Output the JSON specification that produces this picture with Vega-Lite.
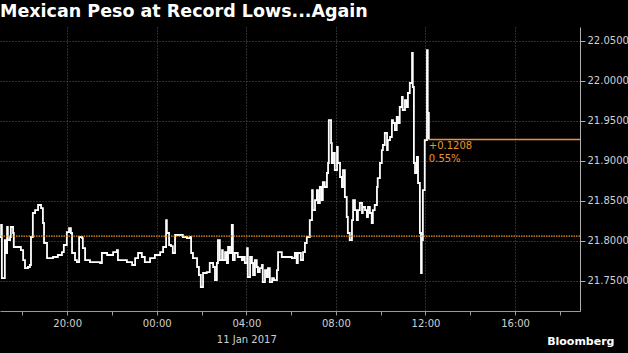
{
  "$schema": "https://vega.github.io/schema/vega-lite/v6.json",
  "width": 580,
  "height": 284,
  "autosize": {"type": "none"},
  "padding": {"left": 0, "top": 27, "right": 48, "bottom": 42},
  "background": "#000000",
  "config": {"view": {"stroke": null}},
  "title": {
    "text": "Mexican Peso at Record Lows...Again",
    "anchor": "start",
    "frame": "group",
    "font": "DejaVu Sans",
    "fontSize": 17.5,
    "fontWeight": "bold",
    "color": "#ffffff",
    "offset": 7
  },
  "datasets": {
    "peso": [
      {"t": "2017-01-10T17:00", "v": 21.8044},
      {"t": "2017-01-10T17:03", "v": 21.8194},
      {"t": "2017-01-10T17:05", "v": 21.7531},
      {"t": "2017-01-10T17:11", "v": 21.7531},
      {"t": "2017-01-10T17:13", "v": 21.8006},
      {"t": "2017-01-10T17:16", "v": 21.7844},
      {"t": "2017-01-10T17:19", "v": 21.8169},
      {"t": "2017-01-10T17:21", "v": 21.8006},
      {"t": "2017-01-10T17:27", "v": 21.8044},
      {"t": "2017-01-10T17:29", "v": 21.8169},
      {"t": "2017-01-10T17:35", "v": 21.8094},
      {"t": "2017-01-10T17:37", "v": 21.7919},
      {"t": "2017-01-10T17:43", "v": 21.7919},
      {"t": "2017-01-10T17:48", "v": 21.7919},
      {"t": "2017-01-10T17:56", "v": 21.7881},
      {"t": "2017-01-10T18:02", "v": 21.7756},
      {"t": "2017-01-10T18:07", "v": 21.7656},
      {"t": "2017-01-10T18:15", "v": 21.7669},
      {"t": "2017-01-10T18:20", "v": 21.7694},
      {"t": "2017-01-10T18:23", "v": 21.8044},
      {"t": "2017-01-10T18:28", "v": 21.8344},
      {"t": "2017-01-10T18:34", "v": 21.8381},
      {"t": "2017-01-10T18:42", "v": 21.8444},
      {"t": "2017-01-10T18:50", "v": 21.8406},
      {"t": "2017-01-10T18:55", "v": 21.8219},
      {"t": "2017-01-10T18:58", "v": 21.7969},
      {"t": "2017-01-10T19:06", "v": 21.7781},
      {"t": "2017-01-10T19:11", "v": 21.7781},
      {"t": "2017-01-10T19:22", "v": 21.7794},
      {"t": "2017-01-10T19:35", "v": 21.7819},
      {"t": "2017-01-10T19:46", "v": 21.7856},
      {"t": "2017-01-10T19:51", "v": 21.7944},
      {"t": "2017-01-10T19:59", "v": 21.8106},
      {"t": "2017-01-10T20:05", "v": 21.8156},
      {"t": "2017-01-10T20:10", "v": 21.8094},
      {"t": "2017-01-10T20:13", "v": 21.7844},
      {"t": "2017-01-10T20:21", "v": 21.7756},
      {"t": "2017-01-10T20:26", "v": 21.7731},
      {"t": "2017-01-10T20:32", "v": 21.8044},
      {"t": "2017-01-10T20:40", "v": 21.8031},
      {"t": "2017-01-10T20:42", "v": 21.7906},
      {"t": "2017-01-10T20:48", "v": 21.7756},
      {"t": "2017-01-10T21:01", "v": 21.7731},
      {"t": "2017-01-10T21:14", "v": 21.7731},
      {"t": "2017-01-10T21:28", "v": 21.7719},
      {"t": "2017-01-10T21:33", "v": 21.7844},
      {"t": "2017-01-10T21:47", "v": 21.7819},
      {"t": "2017-01-10T21:55", "v": 21.7819},
      {"t": "2017-01-10T22:03", "v": 21.7856},
      {"t": "2017-01-10T22:13", "v": 21.7881},
      {"t": "2017-01-10T22:16", "v": 21.7756},
      {"t": "2017-01-10T22:29", "v": 21.7756},
      {"t": "2017-01-10T22:40", "v": 21.7731},
      {"t": "2017-01-10T22:48", "v": 21.7731},
      {"t": "2017-01-10T22:54", "v": 21.7694},
      {"t": "2017-01-10T23:02", "v": 21.7781},
      {"t": "2017-01-10T23:10", "v": 21.7844},
      {"t": "2017-01-10T23:20", "v": 21.7794},
      {"t": "2017-01-10T23:28", "v": 21.7731},
      {"t": "2017-01-10T23:42", "v": 21.7781},
      {"t": "2017-01-10T23:55", "v": 21.7819},
      {"t": "2017-01-11T00:09", "v": 21.7856},
      {"t": "2017-01-11T00:17", "v": 21.7919},
      {"t": "2017-01-11T00:25", "v": 21.8256},
      {"t": "2017-01-11T00:27", "v": 21.8094},
      {"t": "2017-01-11T00:33", "v": 21.7944},
      {"t": "2017-01-11T00:38", "v": 21.7931},
      {"t": "2017-01-11T00:43", "v": 21.7844},
      {"t": "2017-01-11T00:49", "v": 21.8069},
      {"t": "2017-01-11T00:57", "v": 21.8069},
      {"t": "2017-01-11T01:10", "v": 21.8044},
      {"t": "2017-01-11T01:21", "v": 21.8031},
      {"t": "2017-01-11T01:29", "v": 21.8044},
      {"t": "2017-01-11T01:32", "v": 21.7844},
      {"t": "2017-01-11T01:37", "v": 21.7781},
      {"t": "2017-01-11T01:48", "v": 21.7669},
      {"t": "2017-01-11T01:53", "v": 21.7569},
      {"t": "2017-01-11T01:58", "v": 21.7419},
      {"t": "2017-01-11T02:04", "v": 21.7594},
      {"t": "2017-01-11T02:14", "v": 21.7606},
      {"t": "2017-01-11T02:22", "v": 21.7719},
      {"t": "2017-01-11T02:31", "v": 21.7669},
      {"t": "2017-01-11T02:36", "v": 21.7506},
      {"t": "2017-01-11T02:41", "v": 21.7719},
      {"t": "2017-01-11T02:44", "v": 21.8006},
      {"t": "2017-01-11T02:49", "v": 21.7756},
      {"t": "2017-01-11T02:55", "v": 21.7881},
      {"t": "2017-01-11T02:57", "v": 21.7756},
      {"t": "2017-01-11T03:03", "v": 21.7856},
      {"t": "2017-01-11T03:08", "v": 21.7719},
      {"t": "2017-01-11T03:11", "v": 21.7919},
      {"t": "2017-01-11T03:16", "v": 21.7844},
      {"t": "2017-01-11T03:21", "v": 21.8194},
      {"t": "2017-01-11T03:24", "v": 21.7756},
      {"t": "2017-01-11T03:29", "v": 21.7844},
      {"t": "2017-01-11T03:37", "v": 21.7794},
      {"t": "2017-01-11T03:48", "v": 21.7756},
      {"t": "2017-01-11T03:51", "v": 21.7794},
      {"t": "2017-01-11T03:56", "v": 21.7719},
      {"t": "2017-01-11T04:02", "v": 21.7906},
      {"t": "2017-01-11T04:04", "v": 21.7544},
      {"t": "2017-01-11T04:10", "v": 21.7794},
      {"t": "2017-01-11T04:15", "v": 21.7719},
      {"t": "2017-01-11T04:18", "v": 21.7569},
      {"t": "2017-01-11T04:23", "v": 21.7756},
      {"t": "2017-01-11T04:28", "v": 21.7669},
      {"t": "2017-01-11T04:31", "v": 21.7606},
      {"t": "2017-01-11T04:36", "v": 21.7656},
      {"t": "2017-01-11T04:42", "v": 21.7694},
      {"t": "2017-01-11T04:44", "v": 21.7481},
      {"t": "2017-01-11T04:50", "v": 21.7631},
      {"t": "2017-01-11T04:55", "v": 21.7544},
      {"t": "2017-01-11T04:58", "v": 21.7656},
      {"t": "2017-01-11T05:03", "v": 21.7481},
      {"t": "2017-01-11T05:09", "v": 21.7531},
      {"t": "2017-01-11T05:14", "v": 21.7506},
      {"t": "2017-01-11T05:22", "v": 21.7631},
      {"t": "2017-01-11T05:25", "v": 21.7856},
      {"t": "2017-01-11T05:35", "v": 21.7794},
      {"t": "2017-01-11T05:49", "v": 21.7794},
      {"t": "2017-01-11T06:02", "v": 21.7781},
      {"t": "2017-01-11T06:10", "v": 21.7844},
      {"t": "2017-01-11T06:15", "v": 21.7719},
      {"t": "2017-01-11T06:18", "v": 21.7844},
      {"t": "2017-01-11T06:26", "v": 21.7756},
      {"t": "2017-01-11T06:32", "v": 21.7856},
      {"t": "2017-01-11T06:37", "v": 21.7969},
      {"t": "2017-01-11T06:42", "v": 21.8044},
      {"t": "2017-01-11T06:45", "v": 21.8044},
      {"t": "2017-01-11T06:50", "v": 21.8256},
      {"t": "2017-01-11T06:56", "v": 21.8631},
      {"t": "2017-01-11T06:58", "v": 21.8381},
      {"t": "2017-01-11T07:04", "v": 21.8506},
      {"t": "2017-01-11T07:09", "v": 21.8631},
      {"t": "2017-01-11T07:12", "v": 21.8469},
      {"t": "2017-01-11T07:17", "v": 21.8669},
      {"t": "2017-01-11T07:22", "v": 21.8506},
      {"t": "2017-01-11T07:25", "v": 21.8731},
      {"t": "2017-01-11T07:30", "v": 21.8669},
      {"t": "2017-01-11T07:36", "v": 21.8844},
      {"t": "2017-01-11T07:39", "v": 21.8969},
      {"t": "2017-01-11T07:41", "v": 21.9506},
      {"t": "2017-01-11T07:47", "v": 21.9219},
      {"t": "2017-01-11T07:49", "v": 21.8969},
      {"t": "2017-01-11T07:52", "v": 21.9094},
      {"t": "2017-01-11T07:57", "v": 21.8881},
      {"t": "2017-01-11T08:03", "v": 21.9169},
      {"t": "2017-01-11T08:05", "v": 21.8969},
      {"t": "2017-01-11T08:11", "v": 21.8794},
      {"t": "2017-01-11T08:16", "v": 21.8669},
      {"t": "2017-01-11T08:19", "v": 21.8881},
      {"t": "2017-01-11T08:24", "v": 21.8544},
      {"t": "2017-01-11T08:29", "v": 21.8294},
      {"t": "2017-01-11T08:32", "v": 21.8094},
      {"t": "2017-01-11T08:37", "v": 21.8006},
      {"t": "2017-01-11T08:43", "v": 21.8256},
      {"t": "2017-01-11T08:46", "v": 21.8506},
      {"t": "2017-01-11T08:51", "v": 21.8381},
      {"t": "2017-01-11T08:56", "v": 21.8256},
      {"t": "2017-01-11T08:59", "v": 21.8381},
      {"t": "2017-01-11T09:04", "v": 21.8469},
      {"t": "2017-01-11T09:10", "v": 21.8344},
      {"t": "2017-01-11T09:12", "v": 21.8419},
      {"t": "2017-01-11T09:18", "v": 21.8381},
      {"t": "2017-01-11T09:23", "v": 21.8294},
      {"t": "2017-01-11T09:26", "v": 21.8419},
      {"t": "2017-01-11T09:31", "v": 21.8344},
      {"t": "2017-01-11T09:36", "v": 21.8219},
      {"t": "2017-01-11T09:39", "v": 21.8381},
      {"t": "2017-01-11T09:44", "v": 21.8444},
      {"t": "2017-01-11T09:50", "v": 21.8669},
      {"t": "2017-01-11T09:52", "v": 21.8781},
      {"t": "2017-01-11T09:58", "v": 21.8969},
      {"t": "2017-01-11T10:03", "v": 21.9131},
      {"t": "2017-01-11T10:06", "v": 21.9194},
      {"t": "2017-01-11T10:11", "v": 21.9344},
      {"t": "2017-01-11T10:17", "v": 21.9131},
      {"t": "2017-01-11T10:19", "v": 21.9256},
      {"t": "2017-01-11T10:25", "v": 21.9294},
      {"t": "2017-01-11T10:30", "v": 21.9506},
      {"t": "2017-01-11T10:33", "v": 21.9469},
      {"t": "2017-01-11T10:38", "v": 21.9381},
      {"t": "2017-01-11T10:43", "v": 21.9544},
      {"t": "2017-01-11T10:46", "v": 21.9469},
      {"t": "2017-01-11T10:51", "v": 21.9669},
      {"t": "2017-01-11T10:57", "v": 21.9794},
      {"t": "2017-01-11T10:59", "v": 21.9631},
      {"t": "2017-01-11T11:05", "v": 21.9756},
      {"t": "2017-01-11T11:10", "v": 21.9669},
      {"t": "2017-01-11T11:13", "v": 21.9844},
      {"t": "2017-01-11T11:18", "v": 21.9969},
      {"t": "2017-01-11T11:24", "v": 22.0344},
      {"t": "2017-01-11T11:26", "v": 21.9919},
      {"t": "2017-01-11T11:29", "v": 21.8969},
      {"t": "2017-01-11T11:32", "v": 21.8844},
      {"t": "2017-01-11T11:37", "v": 21.9044},
      {"t": "2017-01-11T11:40", "v": 21.8719},
      {"t": "2017-01-11T11:45", "v": 21.8094},
      {"t": "2017-01-11T11:48", "v": 21.7594},
      {"t": "2017-01-11T11:50", "v": 21.8006},
      {"t": "2017-01-11T11:53", "v": 21.8631},
      {"t": "2017-01-11T11:58", "v": 21.9256},
      {"t": "2017-01-11T12:04", "v": 22.0381},
      {"t": "2017-01-11T12:06", "v": 21.9594},
      {"t": "2017-01-11T12:09", "v": 21.9263}
    ],
    "prev": [{"v": 21.8055}],
    "last": [{"t": "2017-01-11T12:09", "t2": "2017-01-11T18:54", "v": 21.9263, "chg": "+0.1208", "pct": "0.55%"}]
  },
  "layer": [
    {
      "data": {"name": "peso"},
      "mark": {"type": "line", "stroke": "#ffffff", "strokeWidth": 1.8, "interpolate": "step-after"},
      "encoding": {
        "x": {
          "field": "t",
          "type": "temporal",
          "scale": {"domain": [{"year": 2017, "month": 1, "date": 10, "hours": 17, "minutes": 0}, {"year": 2017, "month": 1, "date": 11, "hours": 18, "minutes": 54}]},
          "axis": {
            "orient": "bottom",
            "title": "Bloomberg",
            "titleFont": "DejaVu Sans",
            "titleFontSize": 11,
            "titleFontWeight": "bold",
            "titleColor": "#ffffff",
            "titleAnchor": "end",
            "titleAlign": "right",
            "titleBaseline": "middle",
            "titleX": 614,
            "titleY": 30,
            "values": [
              {"year": 2017, "month": 1, "date": 10, "hours": 18},
              {"year": 2017, "month": 1, "date": 10, "hours": 20},
              {"year": 2017, "month": 1, "date": 10, "hours": 22},
              {"year": 2017, "month": 1, "date": 11, "hours": 0},
              {"year": 2017, "month": 1, "date": 11, "hours": 2},
              {"year": 2017, "month": 1, "date": 11, "hours": 4},
              {"year": 2017, "month": 1, "date": 11, "hours": 6},
              {"year": 2017, "month": 1, "date": 11, "hours": 8},
              {"year": 2017, "month": 1, "date": 11, "hours": 10},
              {"year": 2017, "month": 1, "date": 11, "hours": 12},
              {"year": 2017, "month": 1, "date": 11, "hours": 14},
              {"year": 2017, "month": 1, "date": 11, "hours": 16},
              {"year": 2017, "month": 1, "date": 11, "hours": 18}
            ],
            "labelExpr": "hours(datum.value) % 4 == 0 ? (hours(datum.value) == 4 ? ['04:00', '11 Jan 2017'] : timeFormat(datum.value, '%H:%M')) : ''",
            "labelFont": "DejaVu Sans",
            "labelFontSize": 10,
            "labelColor": "#d0d0d0",
            "labelLineHeight": 16,
            "labelPadding": 3,
            "labelFlush": false,
            "labelOverlap": false,
            "domainColor": "#9a9a9a",
            "domainWidth": 1,
            "tickColor": "#9a9a9a",
            "tickSize": 4,
            "grid": true,
            "gridColor": "#5a5a5a",
            "gridDash": [1, 2],
            "gridWidth": 1,
            "gridOpacity": {"condition": {"test": "hours(datum.value) % 4 == 0", "value": 1}, "value": 0}
          }
        },
        "y": {
          "field": "v",
          "type": "quantitative",
          "scale": {"domain": [21.7119, 22.0669], "zero": false, "nice": false},
          "axis": {
            "orient": "right",
            "title": null,
            "values": [21.75, 21.8, 21.85, 21.9, 21.95, 22.0, 22.05],
            "format": ".4f",
            "labelFont": "DejaVu Sans",
            "labelFontSize": 10,
            "labelColor": "#d0d0d0",
            "labelPadding": 2,
            "labelFlush": false,
            "labelOverlap": false,
            "domainColor": "#b0b0b0",
            "tickColor": "#b0b0b0",
            "tickSize": 5,
            "grid": true,
            "gridColor": "#5a5a5a",
            "gridDash": [1, 2],
            "gridWidth": 1
          }
        }
      }
    },
    {
      "data": {"name": "prev"},
      "mark": {"type": "rule", "color": "#e8962e", "strokeWidth": 1.2, "strokeDash": [1.5, 1]},
      "encoding": {
        "y": {"field": "v", "type": "quantitative", "axis": {"orient": "right"}}
      }
    },
    {
      "data": {"name": "last"},
      "mark": {"type": "rule", "color": "#ee9530", "strokeWidth": 1.3, "opacity": 1},
      "encoding": {
        "x": {"field": "t", "type": "temporal"},
        "x2": {"field": "t2"},
        "y": {"field": "v", "type": "quantitative", "axis": {"orient": "right"}}
      }
    },
    {
      "data": {"name": "last"},
      "mark": {"type": "text", "color": "#e8962e", "font": "DejaVu Sans", "fontSize": 10, "align": "left", "baseline": "middle", "dx": 0, "dy": 7},
      "encoding": {
        "x": {"field": "t", "type": "temporal"},
        "y": {"field": "v", "type": "quantitative", "axis": {"orient": "right"}},
        "text": {"field": "chg"}
      }
    },
    {
      "data": {"name": "last"},
      "mark": {"type": "text", "color": "#e8962e", "font": "DejaVu Sans", "fontSize": 10, "align": "left", "baseline": "middle", "dx": 0, "dy": 20},
      "encoding": {
        "x": {"field": "t", "type": "temporal"},
        "y": {"field": "v", "type": "quantitative", "axis": {"orient": "right"}},
        "text": {"field": "pct"}
      }
    }
  ]
}
